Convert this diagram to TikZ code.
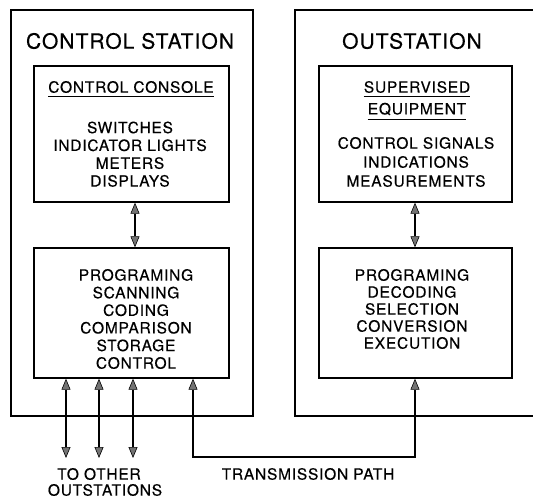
\documentclass[tikz,border=0pt]{standalone}
\usepackage{fontspec}
\setmainfont{TeX Gyre Heros}[LetterSpace=5,FakeBold=0.4]
\usetikzlibrary{arrows.meta}
\begin{document}
\begin{tikzpicture}[x=1pt,y=-1pt,
  >={Triangle[width=9pt,length=11pt,fill=black!55,line width=0.6pt]},
  box/.style={draw,line width=1.4pt,minimum width=#1,inner sep=0pt},
  outer/.style={line width=1.4pt},
  title/.style={font=\fontsize{21}{24}\selectfont,inner sep=0pt},
  txt/.style={font=\fontsize{15.5}{#1}\selectfont,align=center,inner sep=0pt},
  txt/.default=17.8,
  tip/.style={line width=1.3pt,<->},
  uline/.style={line width=0.9pt}]
\useasboundingbox (0,0) rectangle (533,499);
% outer frames
\draw[outer] (11,10) rectangle (253,416);
\draw[outer] (533,10) -- (295,10) -- (295,416) -- (533,416);
\node[title] (cs) at (130,41) {CONTROL STATION};
\node[title] (os) at (412,41) {OUTSTATION};
% inner boxes
\node[box=195pt,minimum height=136pt] (L1) at (131.5,134) {};
\node[box=195pt,minimum height=130pt] (L2) at (131.5,313) {};
\node[box=193pt,minimum height=136pt] (R1) at (415.5,134) {};
\node[box=193pt,minimum height=130pt] (R2) at (415.5,313) {};
% texts
\node[txt] (cc) at (131,87) {CONTROL CONSOLE};
\draw[uline] ([yshift=-4pt]cc.base west) -- ([yshift=-4pt]cc.base east);
\node[txt] (l1t) at (130,154.2) {SWITCHES\\INDICATOR LIGHTS\\METERS\\DISPLAYS};
\node[txt] (sv) at (417,87) {SUPERVISED};
\draw[uline] ([yshift=-4pt]sv.base west) -- ([yshift=-4pt]sv.base east);
\node[txt] (eq) at (417,109) {EQUIPMENT};
\draw[uline] ([yshift=-5pt]eq.base west) -- ([yshift=-5pt]eq.base east);
\node[txt=19] (r1t) at (416,162) {CONTROL SIGNALS\\INDICATIONS\\MEASUREMENTS};
\node[txt=17.6] (l2t) at (136,319) {PROGRAMING\\SCANNING\\CODING\\COMPARISON\\STORAGE\\CONTROL};
\node[txt=17] (r2t) at (412,309) {PROGRAMING\\DECODING\\SELECTION\\CONVERSION\\EXECUTION};
% vertical links
\draw[tip] (L1.south -| 135,0) -- (L2.north -| 135,0);
\draw[tip] (R1.south -| 415,0) -- (R2.north -| 415,0);
% lines to other outstations
\coordinate (o1) at (66,458);
\coordinate (o2) at (99,458);
\coordinate (o3) at (133,458);
\draw[tip] (L2.south -| o1) -- (o1);
\draw[tip] (L2.south -| o2) -- (o2);
\draw[tip] (L2.south -| o3) -- (o3);
% transmission path
\coordinate (t1) at (193,457);
\coordinate (t2) at (415,457);
\draw[tip,line width=1.1pt] (L2.south -| t1) -- (t1) -- (t2) -- (R2.south -| t2);
\node[txt] (to) at (99,474) {TO OTHER};
\node[txt] (ou) at (105,490) {OUTSTATIONS};
\node[txt] (tp) at (308,474) {TRANSMISSION PATH};
\end{tikzpicture}
\end{document}
